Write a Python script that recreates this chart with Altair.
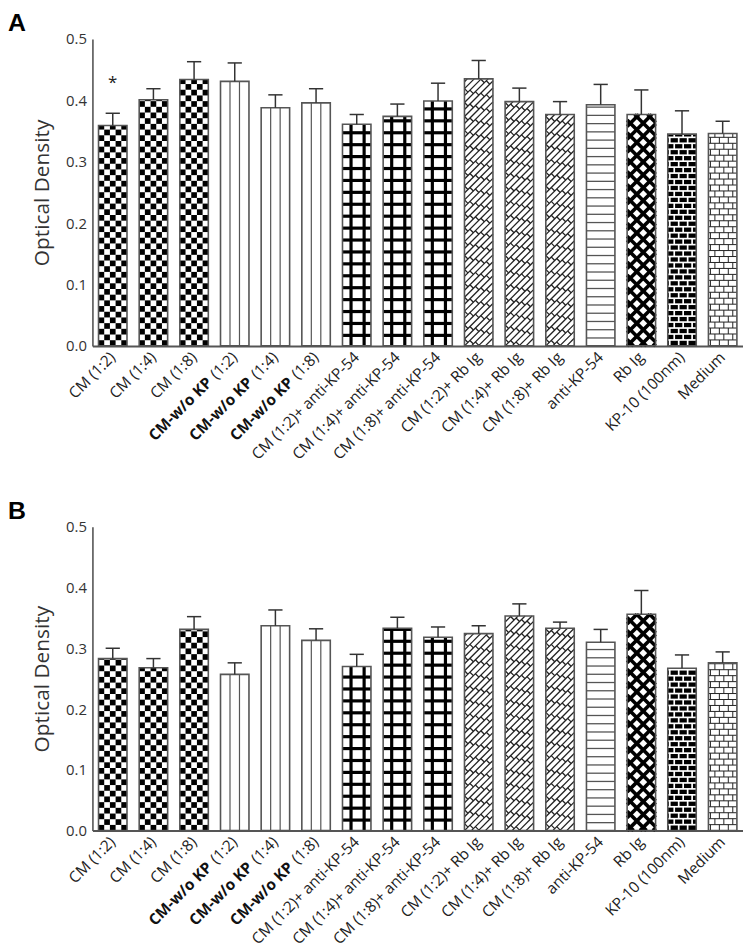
import math
import altair as alt
import pandas as pd

# ---------------- data ----------------
labels = ["CM (1:2)", "CM (1:4)", "CM (1:8)",
          "CM-w/o KP (1:2)", "CM-w/o KP (1:4)", "CM-w/o KP (1:8)",
          "CM (1:2)+ anti-KP-54", "CM (1:4)+ anti-KP-54", "CM (1:8)+ anti-KP-54",
          "CM (1:2)+ Rb Ig", "CM (1:4)+ Rb Ig", "CM (1:8)+ Rb Ig",
          "anti-KP-54", "Rb Ig", "KP-10 (100nm)", "Medium"]
patterns = ["checker"] * 3 + ["vlines"] * 3 + ["grid"] * 3 + ["diagbrick"] * 3 + \
           ["hlines", "diamond", "blackbrick", "whitebrick"]

a_mean = [0.359, 0.401, 0.434, 0.431, 0.388, 0.396, 0.361, 0.374, 0.399, 0.435,
          0.398, 0.377, 0.393, 0.377, 0.345, 0.346]
a_err = [0.020, 0.018, 0.029, 0.030, 0.021, 0.023, 0.016, 0.020, 0.029, 0.030,
         0.022, 0.021, 0.033, 0.040, 0.038, 0.020]
b_mean = [0.283, 0.268, 0.331, 0.257, 0.337, 0.313, 0.270, 0.333, 0.318, 0.324,
          0.353, 0.333, 0.310, 0.356, 0.267, 0.276]
b_err = [0.017, 0.015, 0.021, 0.019, 0.026, 0.019, 0.020, 0.018, 0.017, 0.013,
         0.020, 0.010, 0.021, 0.039, 0.022, 0.018]
y_ticks = [0.0, 0.1, 0.2, 0.3, 0.4, 0.5]
BOLD_PART = "CM-w/o KP"

FONT = "Open Sans"
W = 655
HW = 0.35          # half bar width in x units
OUT = "#555555"
LFS = 15.5         # category label font size


def panel(letter, means, errs, H, star_bar=None):
    XP = W / 16.0
    YP = H / 0.5
    wpx = 2 * HW * XP
    n = len(means)
    idx = list(range(1, n + 1))

    rects, segs = [], []

    def R(i, x1, y1, x2, y2, c):
        rects.append(dict(x=i - HW + x1 / XP, x2=i - HW + x2 / XP,
                          y=y1 / YP, y2=y2 / YP, c=c))

    def S(i, x1, y1, x2, y2, c, sw):
        segs.append(dict(x=i - HW + x1 / XP, x2=i - HW + x2 / XP,
                         y=y1 / YP, y2=y2 / YP, c=c, sw=sw))

    def diag(s, c, w, h):
        if s == 1:
            xa, xb = max(0.0, -c), min(w, h - c)
        else:
            xa, xb = max(0.0, c - h), min(w, c)
        if xb - xa <= 0.3:
            return None
        return (xa, s * xa + c, xb, s * xb + c)

    bg = []
    for i, v, p in zip(idx, means, patterns):
        w, h = wpx, v * YP
        bg.append("black" if p == "blackbrick" else "white")
        if p == "checker":
            cs = w / 5.0
            r = 0
            while r * cs < h:
                for cc in range(5):
                    if (r + cc) % 2 == 0:
                        R(i, cc * cs, r * cs, (cc + 1) * cs, min((r + 1) * cs, h), "black")
                r += 1
        elif p == "vlines":
            for f in (1 / 3, 2 / 3):
                S(i, w * f, 0, w * f, h, OUT, 1.2)
        elif p == "grid":
            for f in (0.30, 0.76):
                R(i, w * f - 1.6, 0, w * f + 1.6, h, "black")
            yy = 9.0
            while yy < h:
                R(i, 0, yy, w, min(yy + 3.2, h), "black")
                yy += 12.0
        elif p == "diagbrick":
            d, B = 7.0, 11.0
            k = math.floor(-w / d) - 1
            while k * d <= h + d:
                sg = diag(1, k * d, w, h)
                if sg:
                    S(i, *sg, "#222222", 1.3)
                x0 = (k % 2) * B / 2
                xx = x0
                cn = (k + 1) * d
                while xx + d / 2 <= w:
                    y1 = xx + cn
                    y2 = xx + cn - d / 2
                    if 0 <= y2 and y1 <= h:
                        S(i, xx, y1, xx + d / 2, y2, "#222222", 1.3)
                    xx += B
                k += 1
        elif p == "hlines":
            yy = 8.0
            while yy < h:
                S(i, 0, yy, w, yy, OUT, 1.3)
                yy += 8.3
        elif p == "diamond":
            P = 13.0
            k = math.floor(-w / P) - 1
            while k * P <= h + w + P:
                for s in (1, -1):
                    sg = diag(s, k * P + (P / 2 if s == -1 else 0), w, h)
                    if sg:
                        S(i, *sg, "black", 3.6)
                k += 1
        elif p in ("blackbrick", "whitebrick"):
            col = "white" if p == "blackbrick" else "#222222"
            lw = 1.7 if p == "blackbrick" else 1.0
            rh, bl = 6.0, 9.0
            r = 0
            while r * rh < h:
                yy = r * rh
                if yy > 0:
                    S(i, 0, yy, w, yy, col, lw)
                xx = (r % 2) * bl / 2 + 2
                while xx < w - 0.5:
                    S(i, xx, yy, xx, min(yy + rh, h), col, lw)
                    xx += bl
                r += 1

    bars = pd.DataFrame(dict(i=idx, x=[i - HW for i in idx], x2=[i + HW for i in idx],
                             y0=[0.0] * n, v=means, top=[m + e for m, e in zip(means, errs)],
                             cl=[i - HW / 2 for i in idx], cr=[i + HW / 2 for i in idx],
                             bg=bg))
    xs = alt.Scale(domain=[0.5, 16.5], nice=False, zero=False)
    ys = alt.Scale(domain=[0, 0.5], nice=False)

    base = alt.Chart(bars).mark_rect().encode(
        x=alt.X("x:Q", scale=xs, title=None,
                axis=alt.Axis(labels=False, ticks=False, grid=False, domainColor=OUT,
                              domainWidth=2, title=None)),
        x2="x2:Q",
        y=alt.Y("y0:Q", scale=ys, title="Optical Density",
                axis=alt.Axis(values=y_ticks, format=".1f", title="Optical Density",
                              ticks=False, grid=False, labelFontSize=15, labelFont=FONT,
                              labelColor="#333333", titleFont=FONT, titleFontSize=21,
                              titleFontWeight="normal", titleColor="#333333",
                              labelPadding=6, titlePadding=13, domainColor=OUT,
                              domainWidth=1.6)),
        y2="v:Q",
        fill=alt.Fill("bg:N", scale=None),
    )

    def X(f):
        return alt.X(f, scale=xs)

    def Y(f):
        return alt.Y(f, scale=ys)

    prect = alt.Chart(pd.DataFrame(rects)).mark_rect().encode(
        x=X("x:Q"), x2="x2:Q", y=Y("y:Q"), y2="y2:Q",
        fill=alt.Fill("c:N", scale=None))

    pseg = alt.Chart(pd.DataFrame(segs)).mark_rule().encode(
        x=X("x:Q"), x2="x2:Q", y=Y("y:Q"), y2="y2:Q",
        color=alt.Color("c:N", scale=None),
        strokeWidth=alt.StrokeWidth("sw:Q", scale=None))

    outline = alt.Chart(bars).mark_rect(fillOpacity=0, stroke=OUT, strokeWidth=1.6).encode(
        x=X("x:Q"), x2="x2:Q", y=Y("y0:Q"), y2="v:Q")

    err = alt.Chart(bars).mark_rule(color="#333333", strokeWidth=1.5).encode(
        x=X("i:Q"), y=Y("v:Q"), y2="top:Q")
    cap = alt.Chart(bars).mark_rule(color="#333333", strokeWidth=1.5).encode(
        x=X("cl:Q"), x2="cr:Q", y=Y("top:Q"))

    normal_txt, bold_txt = [], []
    for i, lab in zip(idx, labels):
        if lab.startswith(BOLD_PART):
            bold_txt.append(dict(i=i, t=BOLD_PART))
            normal_txt.append(dict(i=i, t=lab[len(BOLD_PART):].strip()))
        else:
            normal_txt.append(dict(i=i, t=lab))

    lab_n = alt.Chart(pd.DataFrame(normal_txt)).mark_text(
        angle=315, align="right", baseline="middle", font=FONT, fontSize=LFS,
        color="#222222").encode(x=X("i:Q"), y=alt.value(H + 9), text="t:N")
    lab_b = alt.Chart(pd.DataFrame(bold_txt)).mark_text(
        angle=315, align="right", baseline="middle", font=FONT, fontSize=LFS,
        fontWeight="bold", color="#111111", dx=-36).encode(
        x=X("i:Q"), y=alt.value(H + 9), text="t:N")

    letter_df = pd.DataFrame([dict(t=letter)])
    let = alt.Chart(letter_df).mark_text(
        font="Liberation Sans", fontSize=25, fontWeight="bold", color="black",
        align="left", baseline="alphabetic").encode(
        x=alt.value(-85), y=alt.value(-8), text="t:N")

    layers = [base, prect, pseg, outline, err, cap, lab_n, lab_b, let]
    if star_bar is not None:
        sdf = pd.DataFrame([dict(i=star_bar, y=means[star_bar - 1] + errs[star_bar - 1] + 0.05,
                                 t="*")])
        layers.append(alt.Chart(sdf).mark_text(font=FONT, fontSize=17, color="#222222",
                                               baseline="middle").encode(
            x=X("i:Q"), y=Y("y:Q"), text="t:N"))

    return alt.layer(*layers).properties(width=W, height=H)


chart = alt.vconcat(
    panel("A", a_mean, a_err, 309, star_bar=1),
    panel("B", b_mean, b_err, 306),
    spacing=36,
).properties(
    padding={"left": 0, "top": 0, "right": 0, "bottom": 0}
).configure(font=FONT).configure_view(stroke=None)

chart.save("out.html", embed_options={"renderer": "svg", "actions": False})
